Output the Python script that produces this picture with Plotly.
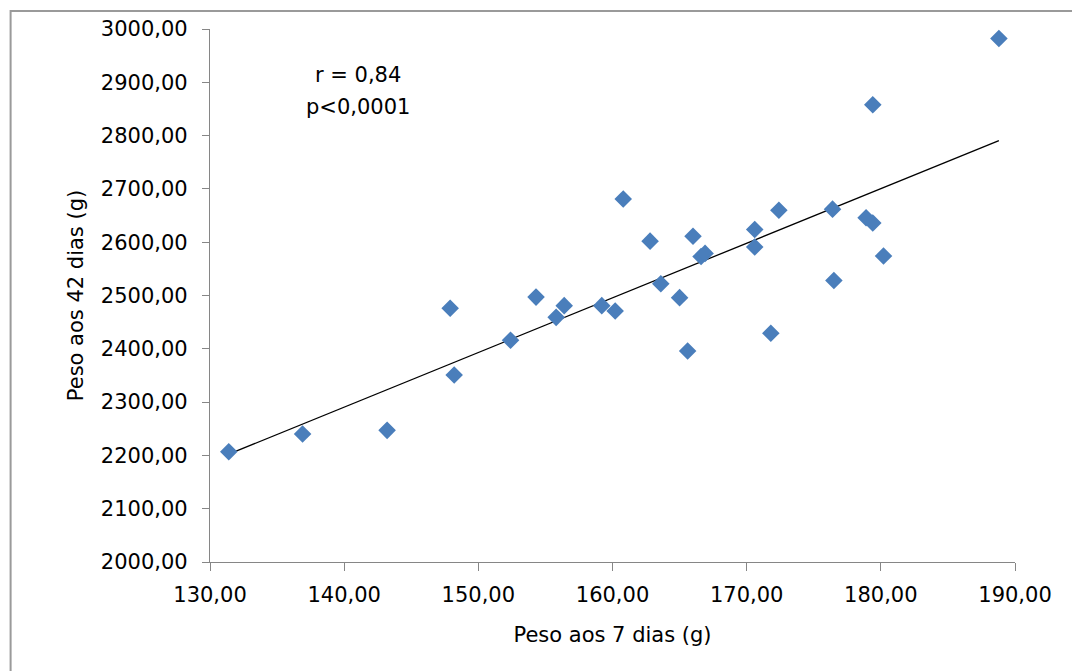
import numpy as np
import plotly.graph_objects as go

# Data
peso_7 = [131.4, 136.9, 143.2, 147.9, 148.2, 152.4, 154.3, 155.8, 156.4, 159.2,
          160.2, 160.8, 162.8, 163.6, 165.0, 165.6, 166.0, 166.6, 166.9, 170.6,
          170.6, 171.8, 172.4, 176.4, 176.5, 178.9, 179.4, 179.4, 180.2, 188.8]
peso_42 = [2207, 2240, 2247, 2476, 2351, 2416, 2497, 2459, 2481, 2481,
           2471, 2681, 2602, 2522, 2496, 2396, 2611, 2573, 2579, 2624,
           2591, 2429, 2660, 2662, 2528, 2646, 2858, 2636, 2574, 2982]

x_ticks = [130, 140, 150, 160, 170, 180, 190]
y_ticks = [2000, 2100, 2200, 2300, 2400, 2500, 2600, 2700, 2800, 2900, 3000]

def fmt(v):
    return f"{v:.2f}".replace(".", ",")

xs = np.array(peso_7)
ys = np.array(peso_42)
slope, intercept = np.polyfit(xs, ys, 1)
line_x = [xs.min(), xs.max()]
line_y = [slope * v + intercept for v in line_x]

fig = go.Figure()
fig.add_trace(go.Scatter(
    x=line_x, y=line_y, mode="lines",
    line=dict(color="black", width=1.3), showlegend=False, hoverinfo="skip"))
fig.add_trace(go.Scatter(
    x=peso_7, y=peso_42, mode="markers",
    marker=dict(symbol="diamond", size=13.5, color="#4A7EBB",
                line=dict(width=0)),
    showlegend=False))

font = "DejaVu Sans, Liberation Sans, Arial, sans-serif"
fs = 21

fig.update_layout(
    width=1072, height=671,
    margin=dict(l=209.5, r=57, t=29, b=108.5),
    paper_bgcolor="white", plot_bgcolor="white",
    font=dict(family=font, color="black", size=fs),
    xaxis=dict(range=[130, 190], tickvals=x_ticks, ticktext=[fmt(v) for v in x_ticks],
               showgrid=False, zeroline=False, showline=True, linecolor="#868686",
               linewidth=1.3, ticks="outside", ticklen=8, tickcolor="#868686",
               ticklabelstandoff=6,
               tickfont=dict(size=fs), title=dict(text="Peso aos 7 dias (g)",
               font=dict(size=fs), standoff=20)),
    yaxis=dict(range=[2000, 3000], tickvals=y_ticks, ticktext=[fmt(v) for v in y_ticks],
               showgrid=False, zeroline=False, showline=True, linecolor="#868686",
               linewidth=1.3, ticks="outside", ticklen=7, tickcolor="#868686",
               ticklabelstandoff=10,
               tickfont=dict(size=fs), title=dict(text="Peso aos 42 dias (g)",
               font=dict(size=fs), standoff=11)),
    shapes=[dict(type="rect", xref="paper", yref="paper",
                 x0=-0.2477, y0=-0.4, x1=1.2, y1=1.0337,
                 line=dict(color="#9a9a9a", width=2), fillcolor="rgba(0,0,0,0)",
                 layer="below")],
    annotations=[
        dict(x=141.0, y=2914, xref="x", yref="y", text="r = 0,84",
             showarrow=False, font=dict(size=fs)),
        dict(x=141.0, y=2854, xref="x", yref="y", text="p<0,0001",
             showarrow=False, font=dict(size=fs)),
    ],
)

fig.write_html("out.html", config={"displayModeBar": False},
               post_script="document.body.style.margin='0';document.body.style.overflow='hidden';")
